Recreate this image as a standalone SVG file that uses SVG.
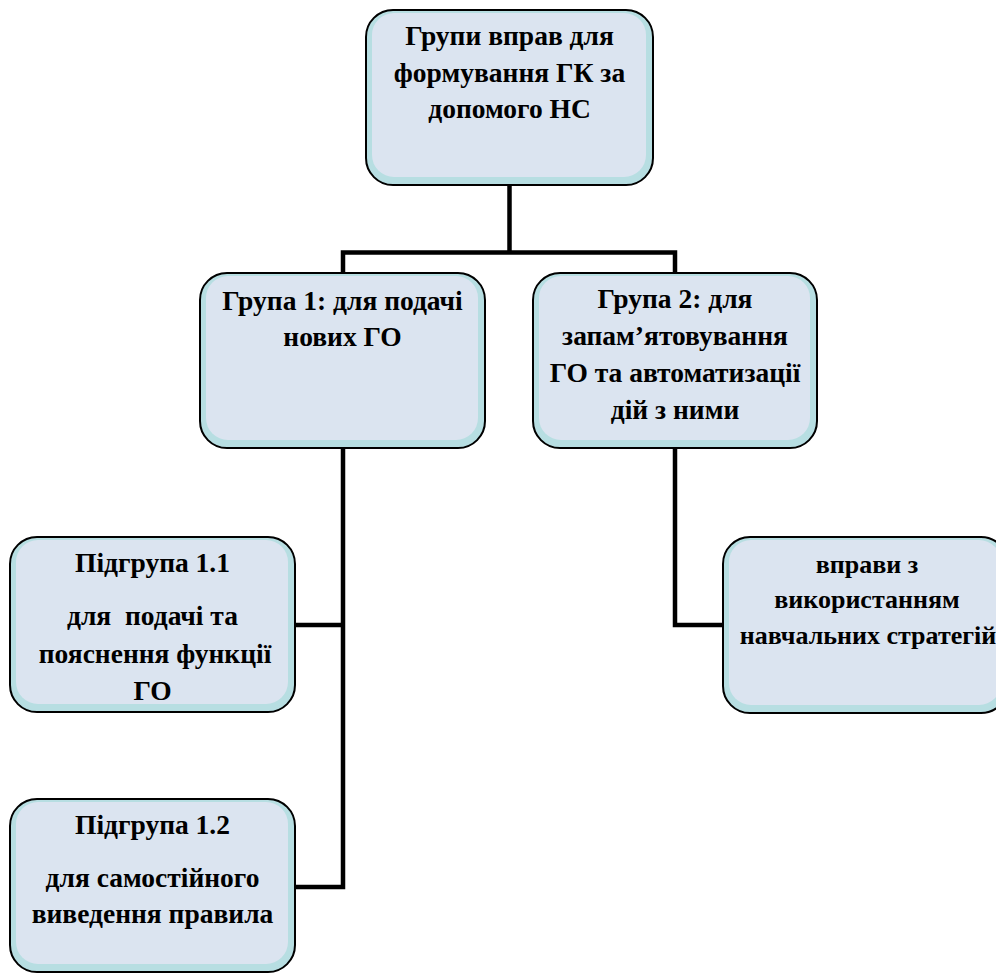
<svg xmlns="http://www.w3.org/2000/svg" width="996" height="974" viewBox="0 0 996 974">
<defs>
<style>
.bg{fill:#b7dee2;stroke:none}
.in{fill:#dbe4f0;stroke:none}
.ol{fill:none;stroke:#000;stroke-width:2}
.t{font-family:"Liberation Serif","Times New Roman",serif;font-weight:bold;font-size:27.5px;fill:#000;text-anchor:middle}
.s{font-size:26px}
.c{fill:none;stroke:#000;stroke-width:4.5;stroke-linejoin:miter;stroke-linecap:butt}
</style>
</defs>
<rect width="996" height="974" fill="#fff"/>
<g id="connectors">
<path class="c" d="M509.5 185 V252.5"/>
<path class="c" d="M343 273 V252.5 H675 V273"/>
<path class="c" d="M343 448 V887 H295"/>
<path class="c" d="M343 625 H295"/>
<path class="c" d="M675 448 V625 H723"/>
</g>
<g id="root">
<rect class="bg" x="366" y="10" width="287" height="175" rx="27"/>
<rect class="in" x="372" y="13" width="274" height="164" rx="22"/>
<rect class="ol" x="366" y="10" width="287" height="175" rx="27"/>
<text class="t" x="509.5" y="45">Групи вправ для</text>
<text class="t" x="509.5" y="82">формування ГК за</text>
<text class="t" x="509.5" y="118">допомого НС</text>
</g>
<g id="group1">
<rect class="bg" x="200" y="273" width="285" height="175" rx="27"/>
<rect class="in" x="206" y="276" width="272" height="164" rx="22"/>
<rect class="ol" x="200" y="273" width="285" height="175" rx="27"/>
<text class="t" x="342.5" y="310">Група 1: для подачі</text>
<text class="t" x="342.5" y="346">нових ГО</text>
</g>
<g id="group2">
<rect class="bg" x="533" y="273" width="284" height="175" rx="27"/>
<rect class="in" x="539" y="276" width="271" height="164" rx="22"/>
<rect class="ol" x="533" y="273" width="284" height="175" rx="27"/>
<text class="t" x="675" y="308">Група 2: для</text>
<text class="t" x="675" y="345">запам’ятовування</text>
<text class="t" x="675" y="382">ГО та автоматизації</text>
<text class="t" x="675" y="419">дій з ними</text>
</g>
<g id="sub11">
<rect class="bg" x="10" y="537" width="285" height="175" rx="27"/>
<rect class="in" x="16" y="540" width="272" height="164" rx="22"/>
<rect class="ol" x="10" y="537" width="285" height="175" rx="27"/>
<text class="t" x="152.5" y="572">Підгрупа 1.1</text>
<text class="t" x="152.5" y="625" xml:space="preserve">для  подачі та</text>
<text class="t" x="155" y="663">пояснення функції</text>
<text class="t" x="152.5" y="700">ГО</text>
</g>
<g id="strategies">
<rect class="bg" x="723" y="537" width="285" height="176" rx="27"/>
<rect class="in" x="729" y="540" width="272" height="165" rx="22"/>
<rect class="ol" x="723" y="537" width="285" height="176" rx="27"/>
<text class="t s" x="867" y="573">вправи з</text>
<text class="t s" x="867" y="608">використанням</text>
<text class="t s" x="868" y="644">навчальних стратегій</text>
</g>
<g id="sub12">
<rect class="bg" x="10" y="799" width="285" height="173" rx="27"/>
<rect class="in" x="16" y="802" width="272" height="162" rx="22"/>
<rect class="ol" x="10" y="799" width="285" height="173" rx="27"/>
<text class="t" x="152.5" y="834">Підгрупа 1.2</text>
<text class="t" x="152.5" y="887">для самостійного</text>
<text class="t" x="152.5" y="923">виведення правила</text>
</g>
</svg>
